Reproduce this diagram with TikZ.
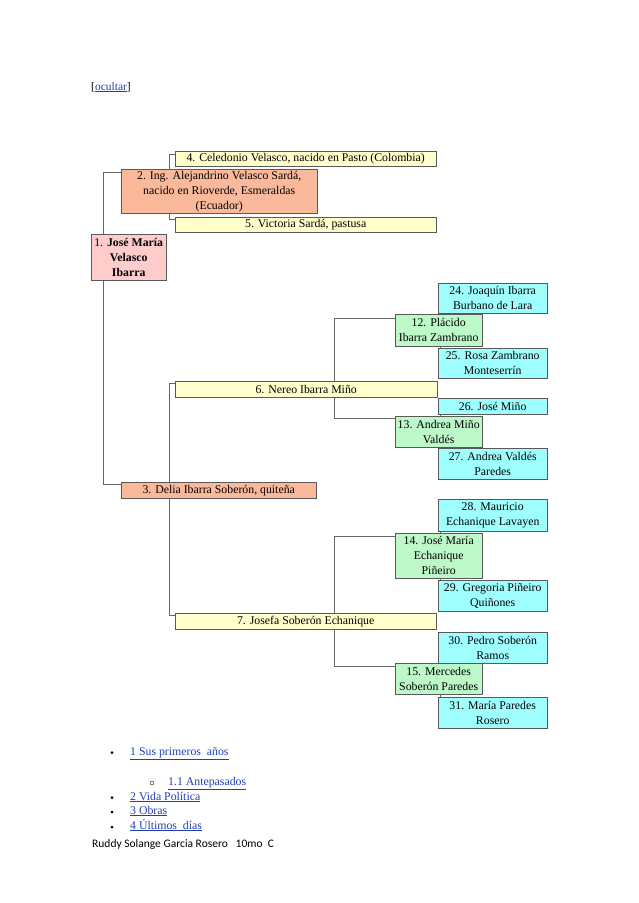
\documentclass[tikz,border=0pt]{standalone}
\usepackage{fontspec}
\setmainfont{Liberation Serif}
\newfontfamily\footfont{Carlito}
\usetikzlibrary{backgrounds,shadows}

\definecolor{selfpink}{HTML}{FFCCCC}
\definecolor{parentsalmon}{HTML}{FBB99B}
\definecolor{gpyellow}{HTML}{FFFFCC}
\definecolor{ggpgreen}{HTML}{BDF8C9}
\definecolor{gggpcyan}{HTML}{9FFFFF}
\definecolor{linkblue}{HTML}{1F3FB5}

\tikzset{
  person/.style={draw=black!65, align=center, inner sep=0pt, anchor=north west,
    font=\fontsize{11.8}{15}\selectfont,
    drop shadow={shadow xshift=0.8pt, shadow yshift=-0.8pt, fill=black!60, opacity=1}},
  self/.style={person, fill=selfpink},
  parent/.style={person, fill=parentsalmon},
  gparent/.style={person, fill=gpyellow},
  ggparent/.style={person, fill=ggpgreen},
  gggparent/.style={person, fill=gggpcyan},
  link/.style={draw=black!60, line width=0.7pt},
  toc/.style={anchor=base west, inner sep=0pt, font=\fontsize{11.8}{13}\selectfont, text=linkblue}
}

\begin{document}
\begin{tikzpicture}[x=1pt, y=-1pt]

\useasboundingbox (0,0) rectangle (638,903);

% Hide link
\node[anchor=base west, inner sep=0pt, font=\fontsize{11.5}{13}\selectfont] (hide) at (91,90)
  {[\textcolor{linkblue}{\underline{ocultar}}]};

% Generation 1
\node[self, minimum width=75pt, minimum height=46pt] (p1) at (91,234)
  {1. \textbf{José María}\\ \textbf{Velasco}\\ \textbf{Ibarra}};

% Generation 2: parents
\node[parent, minimum width=196pt, minimum height=44pt] (p2) at (121,169)
  {2. Ing. Alejandrino Velasco Sardá,\\ nacido en Rioverde, Esmeraldas\\ (Ecuador)};
\node[parent, minimum width=195pt, minimum height=16pt] (p3) at (121,482)
  {3. Delia Ibarra Soberón, quiteña};

% Generation 3: grandparents
\node[gparent, minimum width=261pt, minimum height=15pt] (p4) at (175,151)
  {4. Celedonio Velasco, nacido en Pasto (Colombia)};
\node[gparent, minimum width=261pt, minimum height=15pt] (p5) at (175,217)
  {5. Victoria Sardá, pastusa};
\node[gparent, minimum width=262pt, minimum height=16pt] (p6) at (175,381)
  {6. Nereo Ibarra Miño};
\node[gparent, minimum width=261pt, minimum height=16pt] (p7) at (175,613)
  {7. Josefa Soberón Echanique};

% Generation 4
\node[ggparent, minimum width=87pt, minimum height=32pt] (p12) at (395,314)
  {12. Plácido\\ Ibarra Zambrano};
\node[ggparent, minimum width=87pt, minimum height=31pt] (p13) at (395,416)
  {13. Andrea Miño\\ Valdés};
\node[ggparent, minimum width=87pt, minimum height=45pt] (p14) at (395,533)
  {14. José María\\ Echanique\\ Piñeiro};
\node[ggparent, minimum width=87pt, minimum height=31pt] (p15) at (395,663)
  {15. Mercedes\\ Soberón Paredes};

% Generation 5
\node[gggparent, minimum width=109pt, minimum height=30pt] (p24) at (438,283)
  {24. Joaquín Ibarra\\ Burbano de Lara};
\node[gggparent, minimum width=109pt, minimum height=30pt] (p25) at (438,348)
  {25. Rosa Zambrano\\ Monteserrín};
\node[gggparent, minimum width=109pt, minimum height=16pt] (p26) at (438,398)
  {26. José Miño};
\node[gggparent, minimum width=109pt, minimum height=31pt] (p27) at (438,448)
  {27. Andrea Valdés\\ Paredes};
\node[gggparent, minimum width=109pt, minimum height=32pt] (p28) at (438,499)
  {28. Mauricio\\ Echanique Lavayen};
\node[gggparent, minimum width=109pt, minimum height=31pt] (p29) at (438,580)
  {29. Gregoria Piñeiro\\ Quiñones};
\node[gggparent, minimum width=109pt, minimum height=31pt] (p30) at (438,632)
  {30. Pedro Soberón\\ Ramos};
\node[gggparent, minimum width=109pt, minimum height=31pt] (p31) at (438,697)
  {31. María Paredes\\ Rosero};

% Connectors, behind the boxes
\begin{scope}[on background layer]
\draw[link] ([yshift=-3pt]p2.north west) -- ++(-18,0) |- ([yshift=-2pt]p3.north west);
\draw[link] ([yshift=-3pt]p4.north west) -- ++(-6,0) |- ([yshift=-2pt]p5.north west);
\draw[link] ([yshift=-2pt]p6.north west) -- ++(-6,0) |- ([yshift=-2pt]p7.north west);
\draw[link] ([yshift=-4pt]p12.north west) -- ++(-61,0) |- ([yshift=-2pt]p13.north west);
\draw[link] ([yshift=-3pt]p14.north west) -- ++(-61,0) |- ([yshift=-3pt]p15.north west);
\draw[link] ([xshift=2pt]p24.south west) -- ([xshift=2pt]p25.north west);
\draw[link] ([xshift=2pt]p26.south west) -- ([xshift=2pt]p27.north west);
\draw[link] ([xshift=2pt]p28.south west) -- ([xshift=2pt]p29.north west);
\draw[link] ([xshift=2pt]p30.south west) -- ([xshift=2pt]p31.north west);
\end{scope}

% Contents list
\fill (112,752.5) circle (1.5pt);
\node[toc] (t1) at (130,755) {\underline{1 Sus primeros \ años}};
\draw[black!50, line width=0.4pt] (150.5,781.5) rectangle (153.5,784.5);
\node[toc] (t11) at (168,785) {\underline{1.1 Antepasados}};
\fill (112,797.5) circle (1.5pt);
\node[toc] (t2) at (130,800) {\underline{2 Vida Política}};
\fill (112,812) circle (1.5pt);
\node[toc] (t3) at (130,814) {\underline{3 Obras}};
\fill (112,827) circle (1.5pt);
\node[toc] (t4) at (130,829) {\underline{4 Últimos \ días}};

% Footer
\node[anchor=base west, inner sep=0pt, font=\footfont\fontsize{11.5}{13}\selectfont] (foot) at (92,847)
  {Ruddy Solange Garcia Rosero \ \ 10mo \ C};

\end{tikzpicture}
\end{document}
